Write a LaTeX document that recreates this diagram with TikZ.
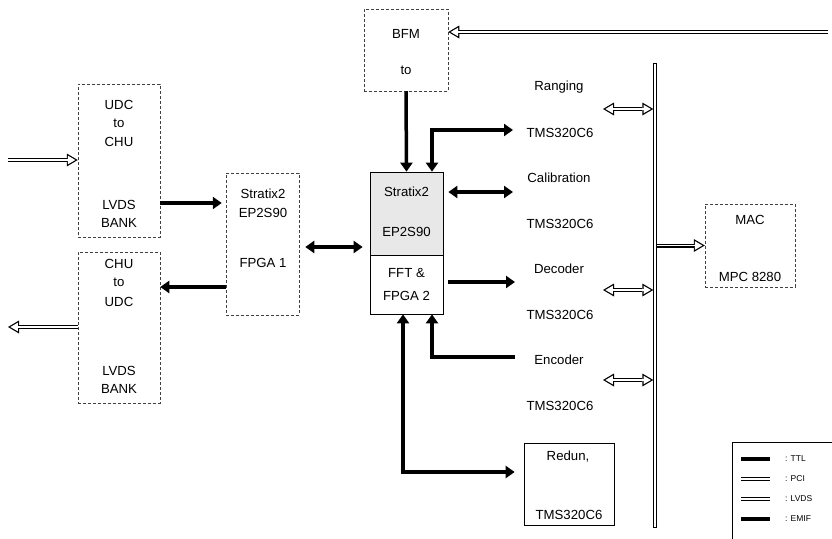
\documentclass[tikz,border=0pt]{standalone}
\usepackage{fontspec}
\setmainfont{Liberation Sans}
\usetikzlibrary{arrows.meta,positioning}
\tikzset{
 blk/.style={draw=black!75, densely dashed, line width=0.5pt},
 sblk/.style={draw, line width=0.7pt},
 txt/.style={font=\fontsize{13.2}{15}\selectfont, inner sep=0pt},
 lgd/.style={font=\fontsize{8.5}{9}\selectfont, inner sep=0pt, anchor=west},
 ttl/.style={line width=3.5pt, -{Triangle[length=9pt,width=12pt]}},
 ttlboth/.style={line width=3.5pt, {Triangle[length=9pt,width=12pt]}-{Triangle[length=9pt,width=12pt]}},
 hol/.style={line width=4pt, postaction={draw=white, line width=1.6pt}},
 lvds/.style={line width=4pt, -{Triangle[length=11pt,width=13pt,line width=0pt]},
  postaction={draw=white, line width=1.6pt, -{Triangle[length=7.4pt,width=8.6pt,line width=0pt]}, shorten >=2.4pt}},
 lvdsboth/.style={line width=4pt, {Triangle[length=11pt,width=13pt,line width=0pt]}-{Triangle[length=11pt,width=13pt,line width=0pt]},
  postaction={draw=white, line width=1.6pt, {Triangle[length=7.4pt,width=8.6pt,line width=0pt]}-{Triangle[length=7.4pt,width=8.6pt,line width=0pt]}, shorten >=2.4pt, shorten <=2.4pt}},
 bus/.style={line width=3.4pt, postaction={draw=white, line width=1.2pt, shorten <=1.1pt, shorten >=1.1pt}},
}
\begin{document}
\begin{tikzpicture}[x=1pt,y=-1pt]
\useasboundingbox (0,0) rectangle (832,538);
% boxes
\node[blk, minimum width=82pt, minimum height=153pt] (udc) at (119,160.5) {};
\node[blk, minimum width=82pt, minimum height=151pt] (chu) at (119,327.5) {};
\node[blk, minimum width=73pt, minimum height=142pt] (fpga) at (262.5,244) {};
\node[blk, minimum width=84pt, minimum height=82pt] (bfm) at (406,50) {};
\node[sblk, fill=gray!18, minimum width=73pt, minimum height=83pt] (str) at (406.5,213.5) {};
\node[sblk, minimum width=73pt, minimum height=59pt] (fft) at (406.5,284.5) {};
\node[sblk, minimum width=90pt, minimum height=82pt] (red) at (569,484) {};
\node[blk, minimum width=90pt, minimum height=83pt] (mac) at (750,245.5) {};

% texts
\node[txt] (t1) at (119,105) {UDC};
\node[txt] (t2) at (119,123) {to};
\node[txt] (t3) at (119,142) {CHU};
\node[txt] (t4) at (119,205) {LVDS};
\node[txt] (t5) at (119,223) {BANK};
\node[txt] (t6) at (119,264) {CHU};
\node[txt] (t7) at (119,282) {to};
\node[txt] (t8) at (119,302) {UDC};
\node[txt] (t9) at (119,371) {LVDS};
\node[txt] (t10) at (119,389) {BANK};
\node[txt] (f1) at (263,194) {Stratix2};
\node[txt] (f2) at (263,213) {EP2S90};
\node[txt] (f3) at (263,263) {FPGA 1};
\node[txt] (b1) at (406,34) {BFM};
\node[txt] (b2) at (406,70) {to};
\node[txt] (s1) at (406.5,192) {Stratix2};
\node[txt] (s2) at (406.5,232) {EP2S90};
\node[txt] (s3) at (406.5,273) {FFT \&};
\node[txt] (s4) at (406.5,296) {FPGA 2};
\node[txt] (r1) at (568,457) {Redun,};
\node[txt] (r2) at (569,515) {TMS320C6};
\node[txt] (m1) at (750,220) {MAC};
\node[txt] (m2) at (750,277) {MPC 8280};
\foreach \n/\a/\y in {rng/Ranging/87, cal/Calibration/178, dec/Decoder/269, enc/Encoder/360}{
 \node[txt] (\n) at (559,\y) {\a};
 \node[txt] (\n t) at (560,\y+46) {TMS320C6};
}

% bus
\path
(655,63) coordinate (busT)
(655,528) coordinate (busB)
(653.3,63) coordinate (busL)
(656.7,63) coordinate (busR)
(828,32) coordinate (inR)
(8,160) coordinate (inL)
(8,327) coordinate (outL)
(0,247) coordinate (mid)
(513,130) coordinate (rgE)
(513,192) coordinate (cbE)
(515,282) coordinate (dcE)
(515,357) coordinate (ecE)
;
\draw[bus] (busT) -- (busB);

% lvds / pci
\draw[lvds] (inL) -- (udc.west |- inL);
\draw[lvds] (chu.west |- outL) -- (outL);
\draw[lvds] (inR) -- (bfm.east |- inR);
\foreach \y in {109,290,380}
 \draw[lvdsboth] (603,\y) -- (busL |- 0,\y);
\draw[lvds] (busR |- mac.west) -- (mac.west);

% ttl / emif
\draw[ttl, shorten >=4pt] ([yshift=-42.5pt]udc.east) -- ([yshift=41pt]fpga.west);
\draw[ttl] (fpga.west |- 0,287) -- (chu.east |- 0,287);
\draw[ttlboth, shorten <=6pt, shorten >=7pt] (fpga.east |- mid) -- (str.west |- mid);
\draw[ttl] (bfm.south) -- (str.north);
\draw[ttlboth] ([xshift=25.5pt]str.north) |- (rgE);
\draw[ttlboth, shorten <=5pt] (str.east |- cbE) -- (cbE);
\draw[ttl, shorten <=5pt] (fft.east |- dcE) -- (dcE);
\draw[ttl] (ecE) -| ([xshift=25.5pt]fft.south);
\draw[ttlboth, shorten >=9pt] ([xshift=-3.5pt]fft.south) |- ([yshift=12pt]red.west);

% legend
\draw[line width=0.6pt] (838,442) -| (732,545);
\draw[line width=3.5pt] (741,459) -- (770,459);
\draw[hol] (741,479) -- (770,479);
\draw[hol] (741,499) -- (770,499);
\draw[line width=3.5pt] (741,519) -- (770,519);
\node[lgd] (l1) at (785,459) {: TTL};
\node[lgd] (l2) at (785,479) {: PCI};
\node[lgd] (l3) at (785,499) {: LVDS};
\node[lgd] (l4) at (785,519) {: EMIF};
\end{tikzpicture}
\end{document}
